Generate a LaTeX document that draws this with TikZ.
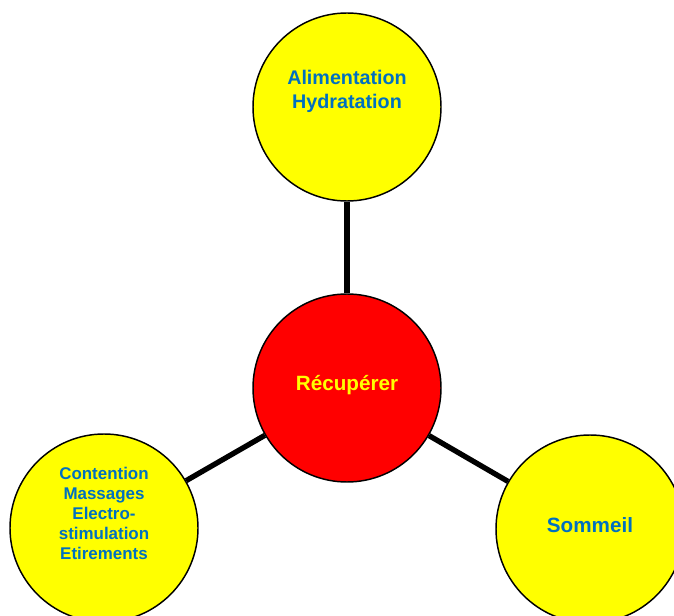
\documentclass[tikz,border=0pt]{standalone}
\usepackage{fontspec}
\setmainfont{Liberation Sans}
\usetikzlibrary{positioning}
\definecolor{textblue}{RGB}{0,112,192}
\definecolor{bubbleyellow}{RGB}{255,255,0}
\definecolor{hubred}{RGB}{255,0,0}

\begin{document}
\begin{tikzpicture}[x=0.75pt, y=-0.75pt]
  \tikzset{
    bubble/.style={draw, circle, line width=1.1pt, minimum size=141pt, inner sep=0pt, fill=bubbleyellow},
    hub/.style={bubble, fill=hubred},
    label text/.style={align=center, text=textblue, font=\bfseries\fontsize{14.8}{18}\selectfont},
    small text/.style={label text, font=\bfseries\fontsize{12.7}{15}\selectfont},
    link/.style={line width=4pt}
  }
  \useasboundingbox (0,0) rectangle (674,616);

  % Circles
  \node[hub] (recup) at (347,388) {};
  \node[bubble] (alim) at (347,107) {};
  \node[bubble] (soins) at (104,528) {};
  \node[bubble] (sommeil) at (590,529) {};

  % Texts
  \node[label text, text=bubbleyellow, font=\bfseries\fontsize{15.5}{18}\selectfont] (recuptext) at (347,385) {Récupérer};
  \node[label text] (alimtext) at (347,91) {Alimentation\\Hydratation};
  \node[small text] (soinstext) at (104,513) {Contention\\Massages\\Electro-\\stimulation\\Etirements};
  \node[label text, font=\bfseries\fontsize{15.5}{18}\selectfont] (sommeiltext) at (590,525) {Sommeil};

  % Connectors
  \draw[link] (recup) -- (alim);
  \draw[link] (recup) -- (soins);
  \draw[link] (recup) -- (sommeil);
\end{tikzpicture}
\end{document}
